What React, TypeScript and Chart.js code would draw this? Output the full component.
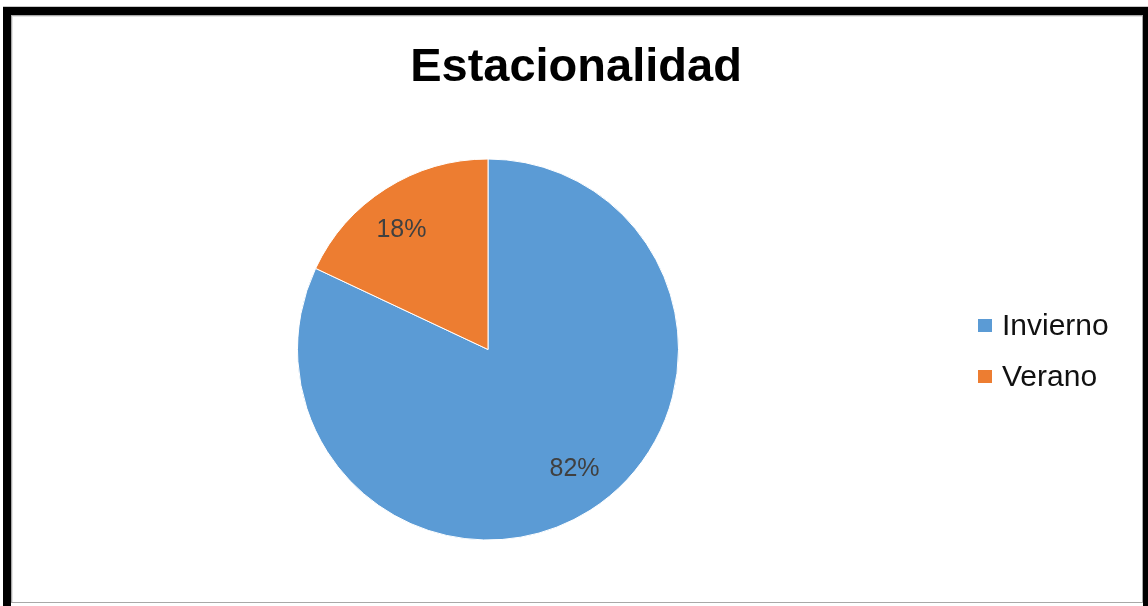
import React, { useEffect, useRef } from "react";
import { Chart, registerables } from "chart.js";

Chart.register(...registerables);

const chartTitle = "Estacionalidad";
const categories = ["Invierno", "Verano"];
const seriesValues = [82, 18];
const seriesColors = ["#5B9BD5", "#ED7D31"];

const FONT = "'Liberation Sans', Arial, sans-serif";

const overlayPlugin = {
  id: "overlayText",
  afterDatasetsDraw(chart: any) {
    const ctx = chart.ctx;
    const meta = chart.getDatasetMeta(0);
    const data = chart.data.datasets[0].data as number[];
    const total = data.reduce((a, b) => a + b, 0);
    ctx.save();
    // percent labels
    ctx.font = `25px ${FONT}`;
    ctx.fillStyle = "#404040";
    ctx.textAlign = "center";
    ctx.textBaseline = "middle";
    meta.data.forEach((arc: any, i: number) => {
      const p = arc.getProps(["x", "y", "startAngle", "endAngle", "outerRadius"], true);
      const mid = (p.startAngle + p.endAngle) / 2 - (3.5 * Math.PI) / 180;
      const r = p.outerRadius * 0.775;
      const pct = Math.round((data[i] / total) * 100) + "%";
      ctx.fillText(pct, p.x + Math.cos(mid) * r, p.y + Math.sin(mid) * r);
    });
    // title
    ctx.font = `bold 47px ${FONT}`;
    ctx.fillStyle = "#000";
    ctx.textAlign = "center";
    ctx.textBaseline = "alphabetic";
    ctx.fillText(chartTitle, 576, 81);
    // legend
    ctx.font = `30px ${FONT}`;
    ctx.textAlign = "left";
    const labels = chart.data.labels as string[];
    labels.forEach((lab, i) => {
      const baseline = 335 + i * 51;
      ctx.fillStyle = seriesColors[i];
      ctx.fillRect(978, baseline - 16, 14, 13);
      ctx.fillStyle = "#111";
      ctx.fillText(lab, 1002, baseline);
    });
    ctx.restore();
  },
};

export default function App() {
  const ref = useRef<HTMLCanvasElement | null>(null);
  useEffect(() => {
    document.body.style.margin = "0";
    const chart = new Chart(ref.current as HTMLCanvasElement, {
      type: "pie",
      data: {
        labels: categories,
        datasets: [
          {
            data: seriesValues,
            backgroundColor: seriesColors,
            borderColor: "#ffffff",
            borderWidth: 1,
          },
        ],
      },
      options: {
        animation: false,
        responsive: false,
        devicePixelRatio: 1,
        layout: { padding: { top: 158, bottom: 65, left: 297, right: 469 } },
        plugins: {
          legend: { display: false },
          title: { display: false },
          tooltip: { enabled: false },
        },
      },
      plugins: [overlayPlugin],
    });
    return () => chart.destroy();
  }, []);

  return (
    <div style={{ position: "fixed", left: 0, top: 0, width: 1148, height: 606, background: "#fff", overflow: "hidden" }}>
      <div style={{ position: "absolute", left: 3, top: 6, width: 1145, height: 1, background: "#c8c8c8" }} />
      <div style={{ position: "absolute", left: 3, top: 7, width: 1145, height: 8, background: "#000" }} />
      <div style={{ position: "absolute", left: 3, top: 7, width: 8, height: 599, background: "#000" }} />
      <div style={{ position: "absolute", left: 1143, top: 7, width: 5, height: 599, background: "#000" }} />
      <div
        style={{
          position: "absolute",
          left: 11,
          top: 15,
          width: 1130,
          height: 586,
          border: "1px solid #a8a8a8",
          boxShadow: "inset 1px 1px 0 #e4e4e4",
        }}
      />
      <canvas ref={ref} width={1148} height={606} style={{ position: "absolute", left: 0, top: 0 }} />
    </div>
  );
}
